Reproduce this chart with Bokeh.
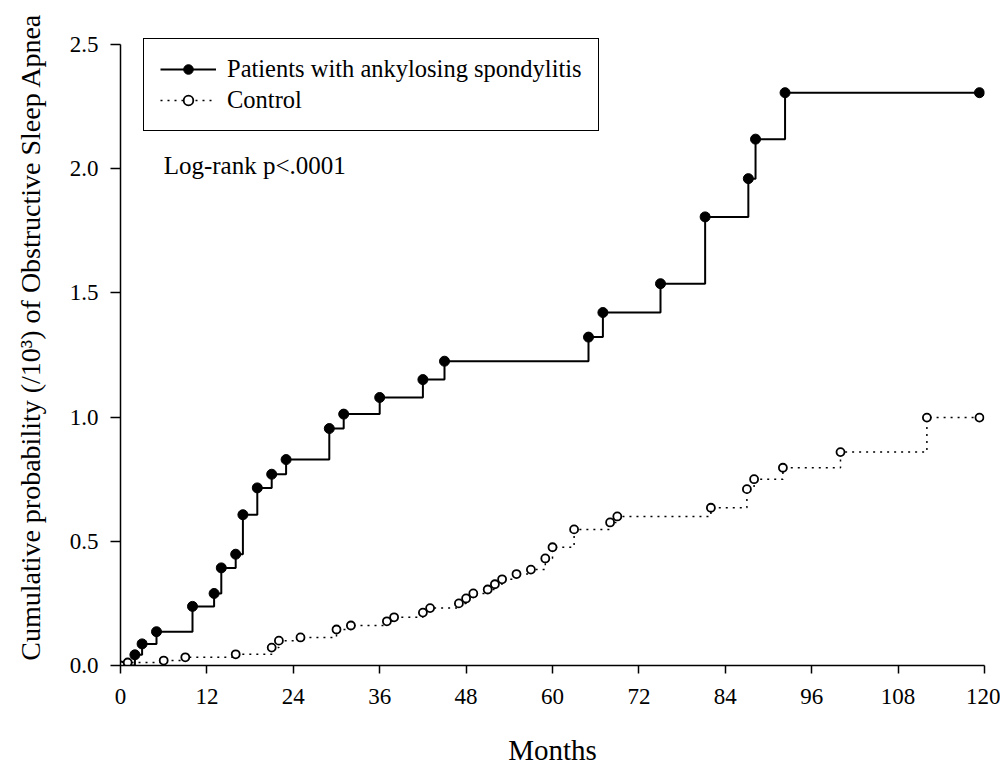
from bokeh.plotting import figure
from bokeh.models import Range1d, Legend, LegendItem, Label, FixedTicker, PrintfTickFormatter
from bokeh.embed import file_html
from bokeh.resources import INLINE

# ---- data ----
as_months = [0, 2, 3, 5, 10, 13, 14, 16, 17, 19, 21, 23, 29, 31, 36, 42, 45,
             65, 67, 75, 81.2, 87.2, 88.2, 92.3, 119.3]
as_prob = [0.0, 0.043, 0.087, 0.136, 0.238, 0.29, 0.393, 0.448, 0.607, 0.715,
           0.77, 0.829, 0.954, 1.012, 1.079, 1.151, 1.225,
           1.322, 1.421, 1.537, 1.806, 1.96, 2.119, 2.306, 2.306]

ctrl_months = [0, 1, 6, 9, 16, 21, 22, 25, 30, 32, 37, 38, 42, 43, 47, 48, 49,
               51, 52, 53, 55, 57, 59, 60, 63, 68, 69, 82, 87, 88, 92, 100, 112, 119.3]
ctrl_prob = [0.0, 0.012, 0.02, 0.033, 0.045, 0.072, 0.10, 0.113, 0.145, 0.161,
             0.178, 0.194, 0.213, 0.231, 0.25, 0.27, 0.29, 0.306, 0.327, 0.347,
             0.368, 0.386, 0.431, 0.476, 0.548, 0.576, 0.60, 0.635, 0.71, 0.75,
             0.796, 0.859, 0.998, 0.998]

x_ticks = [0, 12, 24, 36, 48, 60, 72, 84, 96, 108, 120]
y_ticks = [0.0, 0.5, 1.0, 1.5, 2.0, 2.5]

legend_labels = ["Patients with ankylosing spondylitis", "Control"]
annotation_text = "Log-rank p<.0001"
x_title = "Months"
y_title = "Cumulative probability (/10\u00b3) of Obstructive Sleep Apnea"

FONT = "Liberation Serif"

# layout: y axis drawn 0..2.5; frame extends a little above 2.5 (empty space)
Y_TOP = 2.5 + 36 / 248.4

p = figure(width=1000, height=768, output_backend="svg", toolbar_location=None,
           x_range=Range1d(0, 120), y_range=Range1d(0, Y_TOP),
           min_border_left=120, min_border_top=8, min_border_right=16,
           min_border_bottom=103)
p.outline_line_color = None
p.xgrid.visible = False
p.ygrid.visible = False
p.background_fill_color = "white"
p.border_fill_color = "white"

for ax in (p.xaxis[0], p.yaxis[0]):
    ax.axis_line_color = "black"
    ax.axis_line_width = 1.5
    ax.major_tick_line_color = "black"
    ax.major_tick_line_width = 1.5
    ax.major_tick_in = 0
    ax.minor_tick_line_color = None
    ax.major_label_text_font = FONT
    ax.major_label_text_font_size = "23px"
    ax.major_label_text_color = "black"
    ax.axis_label_text_font = FONT
    ax.axis_label_text_font_style = "normal"
    ax.axis_label_text_color = "black"

p.xaxis[0].axis_label_text_font_size = "29px"
p.yaxis[0].axis_label_text_font_size = "28px"
p.xaxis[0].ticker = FixedTicker(ticks=x_ticks)
p.yaxis[0].ticker = FixedTicker(ticks=y_ticks)
p.yaxis[0].bounds = (0, 2.5)
p.yaxis[0].formatter = PrintfTickFormatter(format="%.1f")
p.xaxis[0].axis_label = x_title
p.yaxis[0].axis_label = y_title
p.xaxis[0].major_tick_out = 8
p.yaxis[0].major_tick_out = 10
p.xaxis[0].major_label_standoff = 15
p.xaxis[0].axis_label_standoff = 27
p.yaxis[0].major_label_standoff = 12
p.yaxis[0].axis_label_standoff = 21

# control curve
c_line = p.step(ctrl_months, ctrl_prob, mode="after", line_color="black",
                line_width=1.5, line_dash="2 5")
# AS curve
a_line = p.step(as_months, as_prob, mode="after", line_color="black", line_width=2)

c_pts = p.scatter(ctrl_months, ctrl_prob, marker="circle", size=8,
                  fill_color="white", line_color="black", line_width=1.8)
a_pts = p.scatter(as_months[1:], as_prob[1:], marker="circle", size=10,
                  fill_color="black", line_color="black", line_width=1)

legend = Legend(items=[LegendItem(label=legend_labels[0], renderers=[a_line, a_pts]),
                       LegendItem(label=legend_labels[1], renderers=[c_line, c_pts])],
                location=(23, 534), padding=16, spacing=3, margin=0,
                glyph_width=56, glyph_height=24, label_height=24, label_standoff=11,
                label_text_font=FONT, label_text_font_size="24.5px",
                label_text_color="black",
                border_line_color="black", border_line_width=1.8, border_line_alpha=1.0,
                background_fill_color="white", background_fill_alpha=1.0)
p.add_layout(legend)

p.add_layout(Label(x=6, y=2.013, text=annotation_text, text_font=FONT,
                   text_font_size="25px", text_baseline="middle", text_color="black"))

open("out.html", "w").write(file_html(p, INLINE))
